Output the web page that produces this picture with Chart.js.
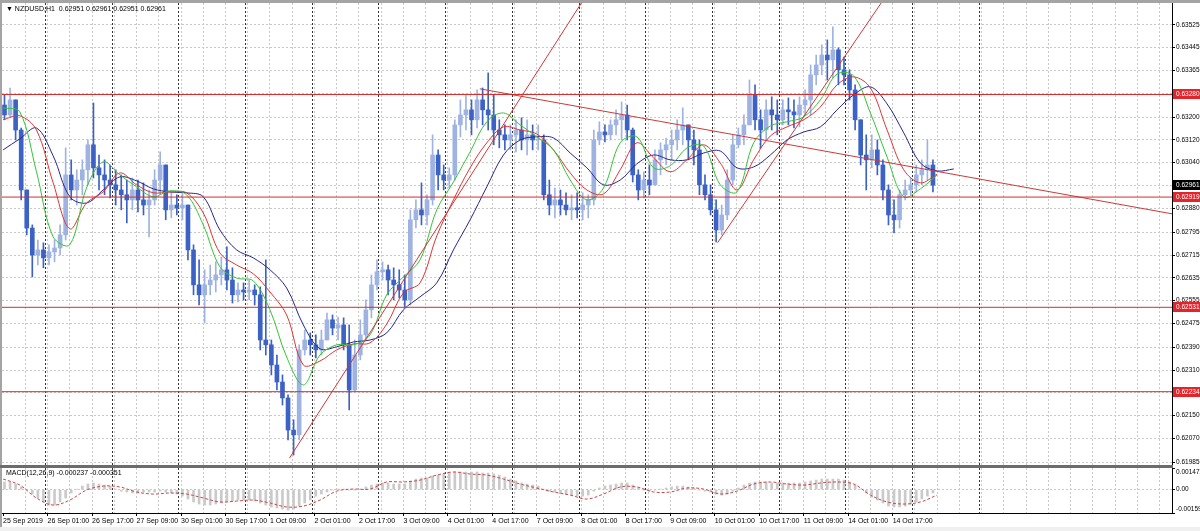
<!DOCTYPE html>
<html>
<head>
<meta charset="utf-8">
<script src="https://cdn.jsdelivr.net/npm/chart.js@4.4.1/dist/chart.umd.min.js"></script>
<style>
  html, body { margin: 0; padding: 0; background: #fff; }
  body { width: 1200px; height: 531px; position: relative; overflow: hidden; }
  canvas { position: absolute; left: 0; }
  #main { top: -10px; }
  #macd { top: 458px; }
  .frame { position: absolute; }
  #f-top { left: 0; top: 0; width: 1200px; height: 3px; background: #a4a4a4; }
  #f-left { left: 0; top: 0; width: 2px; height: 527px; background: #a4a4a4; }
  #f-sep { left: 0; top: 465px; width: 1173px; height: 3px; background: #6c6c6c; }
  #f-bottom { left: 0; top: 527px; width: 1200px; height: 4px; background: #f0f0f0; }
</style>
</head>
<body>
<canvas id="main" width="1200" height="485"></canvas>
<canvas id="macd" width="1200" height="69"></canvas>
<div class="frame" id="f-top"></div>
<div class="frame" id="f-left"></div>
<div class="frame" id="f-sep"></div>
<div class="frame" id="f-bottom"></div>
<script>
// NZDUSD H1, shown here as 2-hour bars (x = hours since 25 Sep 09:00)
const firstOpen = 0.63243;
const highs = [
  0.63279, 0.63303, 0.63261, 0.63162, 0.62944, 0.62821, 0.62768, 0.62758, 0.62751, 0.62768,
  0.62821, 0.63092, 0.63050, 0.63015, 0.63050, 0.63120, 0.63250, 0.63067, 0.63050, 0.63032,
  0.63015, 0.62997, 0.62979, 0.62986, 0.62979, 0.62969, 0.62944, 0.63015, 0.63078, 0.63032,
  0.62934, 0.62927, 0.62934, 0.62891, 0.62751, 0.62698, 0.62663, 0.62680, 0.62691, 0.62708,
  0.62744, 0.62670, 0.62617, 0.62617, 0.62627, 0.62610, 0.62603, 0.62698, 0.62416, 0.62363,
  0.62293, 0.62223, 0.62135, 0.62399, 0.62451, 0.62441, 0.62434, 0.62451, 0.62511, 0.62504,
  0.62497, 0.62494, 0.62469, 0.62416, 0.62487, 0.62557, 0.62645, 0.62698, 0.62691, 0.62680,
  0.62670, 0.62663, 0.62645, 0.62874, 0.62909, 0.62969, 0.62927, 0.63138, 0.63085, 0.63032,
  0.63022, 0.63191, 0.63261, 0.63279, 0.63261, 0.63296, 0.63303, 0.63356, 0.63279, 0.63191,
  0.63173, 0.63173, 0.63191, 0.63198, 0.63191, 0.63173, 0.63173, 0.63138, 0.62979, 0.62951,
  0.62944, 0.62934, 0.62927, 0.62934, 0.62934, 0.62927, 0.63155, 0.63184, 0.63173, 0.63191,
  0.63226, 0.63254, 0.63243, 0.63162, 0.63015, 0.63008, 0.63032, 0.63085, 0.63110, 0.63127,
  0.63155, 0.63191, 0.63233, 0.63173, 0.63155, 0.63120, 0.62997, 0.62962, 0.62909, 0.62891,
  0.63015, 0.63138, 0.63162, 0.63208, 0.63331, 0.63314, 0.63226, 0.63261, 0.63272, 0.63261,
  0.63261, 0.63268, 0.63261, 0.63272, 0.63296, 0.63384, 0.63419, 0.63455, 0.63472, 0.63518,
  0.63444, 0.63412, 0.63367, 0.63314, 0.63191, 0.63138, 0.63138, 0.63120, 0.63050, 0.62962,
  0.62909, 0.62944, 0.62979, 0.62986, 0.63032, 0.63050, 0.63120, 0.63050
];
const lows = [
  0.63191, 0.63198, 0.63120, 0.62909, 0.62786, 0.62638, 0.62680, 0.62670, 0.62680, 0.62691,
  0.62715, 0.62768, 0.62909, 0.62891, 0.62927, 0.62962, 0.62986, 0.62944, 0.62927, 0.62916,
  0.62891, 0.62874, 0.62828, 0.62874, 0.62867, 0.62856, 0.62779, 0.62891, 0.62927, 0.62839,
  0.62846, 0.62856, 0.62839, 0.62698, 0.62575, 0.62539, 0.62476, 0.62575, 0.62585, 0.62610,
  0.62592, 0.62546, 0.62550, 0.62557, 0.62557, 0.62539, 0.62381, 0.62363, 0.62293, 0.62240,
  0.62187, 0.62064, 0.62011, 0.62064, 0.62363, 0.62363, 0.62353, 0.62363, 0.62416, 0.62434,
  0.62416, 0.62381, 0.62170, 0.62235, 0.62346, 0.62416, 0.62494, 0.62592, 0.62627, 0.62575,
  0.62557, 0.62564, 0.62532, 0.62539, 0.62810, 0.62821, 0.62821, 0.62891, 0.62944, 0.62944,
  0.62951, 0.62979, 0.63131, 0.63155, 0.63138, 0.63162, 0.63173, 0.63155, 0.63103, 0.63092,
  0.63085, 0.63085, 0.63078, 0.63085, 0.63067, 0.63085, 0.63085, 0.62909, 0.62856, 0.62846,
  0.62856, 0.62856, 0.62839, 0.62846, 0.62839, 0.62846, 0.62891, 0.63103, 0.63113, 0.63120,
  0.63138, 0.63120, 0.63120, 0.62972, 0.62909, 0.62916, 0.62927, 0.62962, 0.62997, 0.63032,
  0.63050, 0.63085, 0.63103, 0.63050, 0.63032, 0.62927, 0.62909, 0.62856, 0.62761, 0.62786,
  0.62839, 0.62962, 0.63092, 0.63103, 0.63173, 0.63155, 0.63092, 0.63120, 0.63155, 0.63138,
  0.63173, 0.63173, 0.63162, 0.63166, 0.63208, 0.63208, 0.63314, 0.63349, 0.63331, 0.63338,
  0.63314, 0.63314, 0.63261, 0.63155, 0.63032, 0.62944, 0.63022, 0.62997, 0.62909, 0.62821,
  0.62793, 0.62810, 0.62909, 0.62927, 0.62937, 0.62962, 0.62979, 0.62937
];
const closes = [
  0.63208, 0.63261, 0.63155, 0.62944, 0.62810, 0.62715, 0.62733, 0.62705, 0.62726, 0.62740,
  0.62786, 0.62997, 0.62944, 0.62979, 0.63015, 0.63103, 0.63022, 0.62997, 0.62979, 0.62962,
  0.62944, 0.62927, 0.62909, 0.62944, 0.62909, 0.62891, 0.62909, 0.62979, 0.63032, 0.62874,
  0.62891, 0.62881, 0.62891, 0.62733, 0.62610, 0.62575, 0.62610, 0.62627, 0.62645, 0.62663,
  0.62627, 0.62575, 0.62592, 0.62585, 0.62592, 0.62575, 0.62416, 0.62399, 0.62328, 0.62268,
  0.62212, 0.62099, 0.62082, 0.62381, 0.62416, 0.62399, 0.62381, 0.62416, 0.62487, 0.62458,
  0.62469, 0.62399, 0.62240, 0.62363, 0.62434, 0.62522, 0.62610, 0.62656, 0.62663, 0.62627,
  0.62610, 0.62592, 0.62557, 0.62839, 0.62874, 0.62856, 0.62909, 0.63067, 0.62997, 0.62979,
  0.62997, 0.63173, 0.63208, 0.63226, 0.63191, 0.63261, 0.63226, 0.63208, 0.63155, 0.63138,
  0.63120, 0.63138, 0.63155, 0.63120, 0.63138, 0.63120, 0.63120, 0.62927, 0.62891, 0.62909,
  0.62891, 0.62874, 0.62881, 0.62874, 0.62891, 0.62909, 0.63120, 0.63148, 0.63138, 0.63173,
  0.63191, 0.63208, 0.63155, 0.62997, 0.62944, 0.62979, 0.62962, 0.63050, 0.63085, 0.63103,
  0.63120, 0.63155, 0.63173, 0.63120, 0.63085, 0.62962, 0.62927, 0.62874, 0.62803, 0.62856,
  0.62979, 0.63103, 0.63138, 0.63173, 0.63279, 0.63191, 0.63155, 0.63226, 0.63208, 0.63191,
  0.63226, 0.63219, 0.63208, 0.63243, 0.63261, 0.63349, 0.63384, 0.63419, 0.63402, 0.63437,
  0.63367, 0.63349, 0.63296, 0.63191, 0.63067, 0.63050, 0.63085, 0.63032, 0.62944, 0.62856,
  0.62839, 0.62927, 0.62944, 0.62962, 0.62997, 0.63015, 0.63032, 0.62961
];

// moving averages, read every 6 hours
const maHours = [
  0, 6, 12, 18, 24, 30, 36, 42, 48, 54, 60, 66, 72, 78, 84, 90, 96, 102, 108, 114,
  120, 126, 132, 138, 144, 150, 156, 162, 168, 174, 180, 186, 192, 198, 204, 210, 216, 222, 228, 234,
  240, 246, 252, 258, 264, 270, 276, 282, 288, 294, 300, 306, 312, 318, 324, 330, 336, 342
];
const maFast = [
  0.63233, 0.63219, 0.63008, 0.62779, 0.62751, 0.62951, 0.63043, 0.62997, 0.62955, 0.62920,
  0.62941, 0.62927, 0.62821, 0.62673, 0.62634, 0.62624, 0.62522, 0.62356, 0.62258, 0.62363,
  0.62399, 0.62399, 0.62434, 0.62575, 0.62638, 0.62698, 0.62874, 0.62972, 0.63078, 0.63184,
  0.63215, 0.63173, 0.63131, 0.63085, 0.62979, 0.62909, 0.62951, 0.63110, 0.63131, 0.63022,
  0.63029, 0.63092, 0.63099, 0.62962, 0.62937, 0.63110, 0.63169, 0.63184, 0.63201, 0.63261,
  0.63352, 0.63345, 0.63215, 0.63060, 0.62920, 0.62948, 0.62997
];
const maMid = [
  0.63191, 0.63205, 0.63155, 0.62969, 0.62807, 0.62898, 0.62937, 0.63004, 0.62962, 0.62934,
  0.62937, 0.62934, 0.62863, 0.62722, 0.62680, 0.62649, 0.62585, 0.62504, 0.62328, 0.62342,
  0.62381, 0.62402, 0.62406, 0.62472, 0.62582, 0.62617, 0.62782, 0.62909, 0.63022, 0.63110,
  0.63166, 0.63155, 0.63141, 0.63085, 0.63004, 0.62944, 0.62930, 0.63015, 0.63110, 0.63057,
  0.63008, 0.63050, 0.63103, 0.63039, 0.62944, 0.63050, 0.63134, 0.63166, 0.63191, 0.63236,
  0.63314, 0.63342, 0.63303, 0.63155, 0.63015, 0.62969, 0.63000
];
const maSlow = [
  0.63085, 0.63124, 0.63162, 0.63064, 0.62920, 0.62898, 0.62944, 0.62990, 0.62976, 0.62948,
  0.62937, 0.62934, 0.62920, 0.62803, 0.62733, 0.62705, 0.62663, 0.62599, 0.62469, 0.62385,
  0.62392, 0.62409, 0.62416, 0.62441, 0.62522, 0.62568, 0.62617, 0.62733, 0.62839, 0.62955,
  0.63067, 0.63120, 0.63131, 0.63127, 0.63074, 0.63022, 0.62962, 0.62979, 0.63036, 0.63067,
  0.63050, 0.63050, 0.63074, 0.63081, 0.63022, 0.63025, 0.63067, 0.63120, 0.63148, 0.63166,
  0.63226, 0.63279, 0.63307, 0.63247, 0.63145, 0.63039, 0.63011, 0.63018
];

// MACD(12,26,9): histogram per bar, signal every 6 hours
const macdHist = [
  0.00052, 0.00052, 0.00038, 0.00018, -0.00003, -0.00030, -0.00057, -0.00084, -0.00105, -0.00105,
  -0.00084, -0.00057, -0.00023, 0.00004, 0.00024, 0.00038, 0.00045, 0.00038, 0.00031, 0.00024,
  0.00004, -0.00010, -0.00016, -0.00023, -0.00023, -0.00016, -0.00016, -0.00016, -0.00010, -0.00016,
  -0.00023, -0.00030, -0.00044, -0.00064, -0.00084, -0.00098, -0.00105, -0.00105, -0.00098, -0.00091,
  -0.00084, -0.00078, -0.00071, -0.00071, -0.00071, -0.00078, -0.00091, -0.00105, -0.00118, -0.00125,
  -0.00132, -0.00139, -0.00132, -0.00112, -0.00091, -0.00071, -0.00044, -0.00030, -0.00016, -0.00003,
  0.00004, 0.00004, -0.00003, -0.00003, 0.00004, 0.00018, 0.00031, 0.00038, 0.00045, 0.00045,
  0.00038, 0.00038, 0.00038, 0.00059, 0.00072, 0.00079, 0.00079, 0.00093, 0.00099, 0.00106,
  0.00113, 0.00120, 0.00120, 0.00120, 0.00120, 0.00120, 0.00113, 0.00113, 0.00106, 0.00099,
  0.00086, 0.00072, 0.00059, 0.00045, 0.00038, 0.00031, 0.00024, 0.00004, -0.00010, -0.00016,
  -0.00023, -0.00030, -0.00037, -0.00044, -0.00044, -0.00037, -0.00010, 0.00011, 0.00024, 0.00031,
  0.00038, 0.00045, 0.00045, 0.00031, 0.00011, -0.00003, -0.00010, -0.00003, 0.00004, 0.00011,
  0.00018, 0.00024, 0.00024, 0.00018, 0.00011, -0.00003, -0.00010, -0.00016, -0.00030, -0.00037,
  -0.00030, -0.00010, 0.00011, 0.00031, 0.00045, 0.00052, 0.00052, 0.00052, 0.00045, 0.00045,
  0.00045, 0.00045, 0.00045, 0.00045, 0.00052, 0.00059, 0.00065, 0.00072, 0.00072, 0.00072,
  0.00072, 0.00065, 0.00052, 0.00031, 0.00004, -0.00023, -0.00050, -0.00071, -0.00091, -0.00112,
  -0.00118, -0.00118, -0.00112, -0.00098, -0.00084, -0.00063, -0.00044, -0.00023
];
const macdSignal = [
  0.00072, 0.00031, -0.00057, -0.00105, -0.00071, -0.00003, 0.00024, 0.00018, -0.00016, -0.00030,
  -0.00023, -0.00030, -0.00057, -0.00084, -0.00078, -0.00071, -0.00091, -0.00118, -0.00112, -0.00071,
  -0.00010, 0.00004, 0.00004, 0.00052, 0.00052, 0.00065, 0.00099, 0.00120, 0.00106, 0.00099,
  0.00072, 0.00038, 0.00011, -0.00016, -0.00037, -0.00064, -0.00030, 0.00018, 0.00018, -0.00016,
  -0.00016, 0.00011, 0.00004, -0.00030, -0.00010, 0.00038, 0.00052, 0.00038, 0.00031, 0.00045,
  0.00052, 0.00038, -0.00037, -0.00084, -0.00098, -0.00084, -0.00037
];

// horizontal levels, trendlines ([hour, price] ends), current bid
const levelPrices = [0.63280, 0.62919, 0.62531, 0.62234];
const bidPrice = 0.62961;
const trendLines = [
  [[103, 0.62000], [210, 0.63632]],
  [[171.5, 0.63300], [420.5, 0.62860]],
  [[257, 0.62758], [320, 0.63661]]
];

// axes
const priceTicks = [
  0.63525, 0.63445, 0.63365, 0.63285, 0.63200, 0.63120, 0.63040, 0.62960, 0.62880, 0.62795,
  0.62715, 0.62635, 0.62555, 0.62475, 0.62390, 0.62310, 0.62230, 0.62150, 0.62070, 0.61985
];
const macdAxisValues = [0.001472, 0, -0.00159];
const timeLabels = [
  '25 Sep 2019', '26 Sep 01:00', '26 Sep 17:00', '27 Sep 09:00', '30 Sep 01:00', '30 Sep 17:00',
  '1 Oct 09:00', '2 Oct 01:00', '2 Oct 17:00', '3 Oct 09:00', '4 Oct 01:00', '4 Oct 17:00',
  '7 Oct 09:00', '8 Oct 01:00', '8 Oct 17:00', '9 Oct 09:00', '10 Oct 01:00', '10 Oct 17:00',
  '11 Oct 09:00', '14 Oct 01:00', '14 Oct 17:00'
];
const dayStartHours = [15, 39, 63, 87, 111, 135, 159, 183, 207, 231, 255, 279, 303, 327, 351];

const X_MIN = -0.4;
const X_MAX = 420.5;
const FONT = "'Liberation Sans', Arial, sans-serif";
const AXIS_FONT = `6.5px ${FONT}`;

Chart.defaults.font.family = FONT;
Chart.defaults.font.size = 7;
Chart.defaults.color = '#000';

const barHours = closes.map((_, i) => 2 * i + 0.5);
const opens = closes.map((_, i) => (i === 0 ? firstOpen : closes[i - 1]));
const barColors = closes.map((c, i) => (c >= opens[i] ? '#9fb3e3' : '#3d62c6'));

const gridHours = [];
for (let h = 0; h <= 416; h += 8) gridHours.push(h);

const mtPanel = {
  id: 'mtPanel',
  beforeDatasetsDraw(chart) {
    const { ctx, chartArea: a, scales: { x } } = chart;
    ctx.save();
    ctx.strokeStyle = '#333';
    ctx.lineWidth = 1;
    ctx.setLineDash([2, 2]);
    dayStartHours.forEach(h => {
      const px = Math.round(x.getPixelForValue(h)) + 0.5;
      ctx.beginPath();
      ctx.moveTo(px, a.top);
      ctx.lineTo(px, a.bottom);
      ctx.stroke();
    });
    ctx.restore();
  },
  afterDraw(chart, args, opts) {
    const { ctx, chartArea: a } = chart;
    ctx.save();
    ctx.strokeStyle = '#000';
    ctx.lineWidth = 1;
    ctx.beginPath();
    ctx.moveTo(a.right + 0.5, a.top);
    ctx.lineTo(a.right + 0.5, a.bottom + 1);
    if (opts.bottomLine) {
      ctx.moveTo(a.left, a.bottom + 0.5);
      ctx.lineTo(a.right + 1, a.bottom + 0.5);
    }
    ctx.stroke();
    ctx.font = `7px ${FONT}`;
    ctx.fillStyle = '#000';
    ctx.textBaseline = 'middle';
    ctx.fillText(opts.title, a.left + 4, a.top + opts.titleDy);
    ctx.restore();
  }
};

const priceTags = {
  id: 'priceTags',
  afterDraw(chart) {
    const { ctx, chartArea: a, scales: { y } } = chart;
    const tag = (price, bg) => {
      const py = Math.round(y.getPixelForValue(price));
      ctx.fillStyle = bg;
      ctx.fillRect(a.right + 1, py - 5, 28, 10);
      ctx.fillStyle = '#fff';
      ctx.fillText(price.toFixed(5), a.right + 4, py);
    };
    ctx.save();
    ctx.font = AXIS_FONT;
    ctx.textBaseline = 'middle';
    levelPrices.forEach(p => tag(p, '#e3252b'));
    tag(bidPrice, '#000');
    ctx.restore();
  }
};

const macdAxis = {
  id: 'macdAxis',
  afterDraw(chart) {
    const { ctx, chartArea: a, scales: { y } } = chart;
    ctx.save();
    ctx.font = AXIS_FONT;
    ctx.fillStyle = '#000';
    ctx.textBaseline = 'middle';
    macdAxisValues.forEach(v => {
      const py = Math.min(Math.max(y.getPixelForValue(v), a.top + 4), a.bottom - 4);
      ctx.fillText(v === 0 ? '0.00' : String(v), a.right + 4, py);
    });
    ctx.restore();
  }
};

const lineSet = (data, color, extra = {}) => ({
  type: 'line',
  data,
  borderColor: color,
  borderWidth: 1,
  pointRadius: 0,
  tension: 0.35,
  order: 1,
  ...extra
});

const mainDatasets = [
  {
    type: 'bar',
    data: barHours.map((h, i) => ({ x: h, y: [lows[i], highs[i]] })),
    backgroundColor: barColors,
    barThickness: 1,
    grouped: false,
    order: 5
  },
  {
    type: 'bar',
    data: barHours.map((h, i) => ({ x: h, y: [opens[i], closes[i]] })),
    backgroundColor: barColors,
    barThickness: 4,
    minBarLength: 1,
    grouped: false,
    order: 4
  },
  lineSet(maFast.map((v, i) => ({ x: maHours[i], y: v })), '#35c435'),
  lineSet(maMid.map((v, i) => ({ x: maHours[i], y: v })), '#df3434'),
  lineSet(maSlow.map((v, i) => ({ x: maHours[i], y: v })), '#26268c'),
  ...levelPrices.map(p => lineSet([{ x: X_MIN, y: p }, { x: X_MAX, y: p }], '#d42c2c', { tension: 0, order: 0 })),
  ...trendLines.map(([a, b]) => lineSet([{ x: a[0], y: a[1] }, { x: b[0], y: b[1] }], '#cc3a3a', { tension: 0, order: 0 }))
];

new Chart(document.getElementById('main'), {
  type: 'bar',
  data: { datasets: mainDatasets },
  plugins: [mtPanel, priceTags],
  options: {
    responsive: false,
    animation: false,
    devicePixelRatio: 1,
    layout: { padding: { left: 2, top: 13, right: 0, bottom: 10 } },
    plugins: {
      legend: { display: false },
      tooltip: { enabled: false },
      mtPanel: { title: '\u25BC NZDUSD,H1  0.62951 0.62961 0.62951 0.62961', titleDy: 6 }
    },
    scales: {
      x: {
        type: 'linear',
        min: X_MIN,
        max: X_MAX,
        offset: false,
        afterBuildTicks: s => { s.ticks = gridHours.filter(h => h > 0).map(v => ({ value: v })); },
        ticks: { display: false },
        grid: { color: '#c9c9c9', drawTicks: false, offset: false },
        border: { display: false, dash: [2, 2] }
      },
      y: {
        position: 'right',
        min: 0.61976,
        max: 0.63602,
        afterBuildTicks: s => { s.ticks = priceTicks.map(v => ({ value: v })); },
        afterFit: s => { s.width = 28; },
        ticks: { autoSkip: false, padding: 1, font: { size: 6.5 }, callback: v => v.toFixed(5) },
        grid: { color: '#c9c9c9', tickColor: '#000', tickLength: 3 },
        border: { display: false, dash: [2, 2] }
      }
    }
  }
});

new Chart(document.getElementById('macd'), {
  type: 'bar',
  data: {
    datasets: [
      {
        type: 'bar',
        data: barHours.map((h, i) => ({ x: h, y: macdHist[i] })),
        backgroundColor: '#cacaca',
        barThickness: 2,
        grouped: false,
        order: 2
      },
      lineSet(macdSignal.map((v, i) => ({ x: maHours[i], y: v })), '#c44a4a', { borderDash: [3, 2], tension: 0.35 })
    ]
  },
  plugins: [mtPanel, macdAxis],
  options: {
    responsive: false,
    animation: false,
    devicePixelRatio: 1,
    layout: { padding: { left: 2, top: 10, right: 0, bottom: 0 } },
    plugins: {
      legend: { display: false },
      tooltip: { enabled: false },
      mtPanel: { title: 'MACD(12,26,9) -0.000237 -0.000351', titleDy: 5, bottomLine: true }
    },
    scales: {
      x: {
        type: 'linear',
        min: X_MIN,
        max: X_MAX,
        offset: false,
        afterBuildTicks: s => { s.ticks = gridHours.map(v => ({ value: v })); },
        afterFit: s => { s.height = 14; },
        ticks: {
          autoSkip: false,
          maxRotation: 0,
          align: 'start',
          padding: 1,
          callback: v => (v % 16 === 0 && timeLabels[v / 16]) ? timeLabels[v / 16] : ''
        },
        grid: {
          offset: false,
          tickLength: 3,
          color: c => (c.tick && c.tick.value === 0 ? 'rgba(0,0,0,0)' : '#c9c9c9'),
          tickColor: c => (c.tick && c.tick.value % 16 === 0 && timeLabels[c.tick.value / 16] ? '#000' : 'rgba(0,0,0,0)')
        },
        border: { display: false, dash: [2, 2] }
      },
      y: {
        position: 'right',
        min: -0.00159,
        max: 0.001472,
        afterBuildTicks: s => { s.ticks = macdAxisValues.map(v => ({ value: v })); },
        afterFit: s => { s.width = 28; },
        ticks: { display: false },
        grid: {
          color: c => (c.tick && c.tick.value === 0 ? '#c9c9c9' : 'rgba(0,0,0,0)'),
          tickColor: '#000',
          tickLength: 3
        },
        border: { display: false, dash: [2, 2] }
      }
    }
  }
});
</script>
</body>
</html>
